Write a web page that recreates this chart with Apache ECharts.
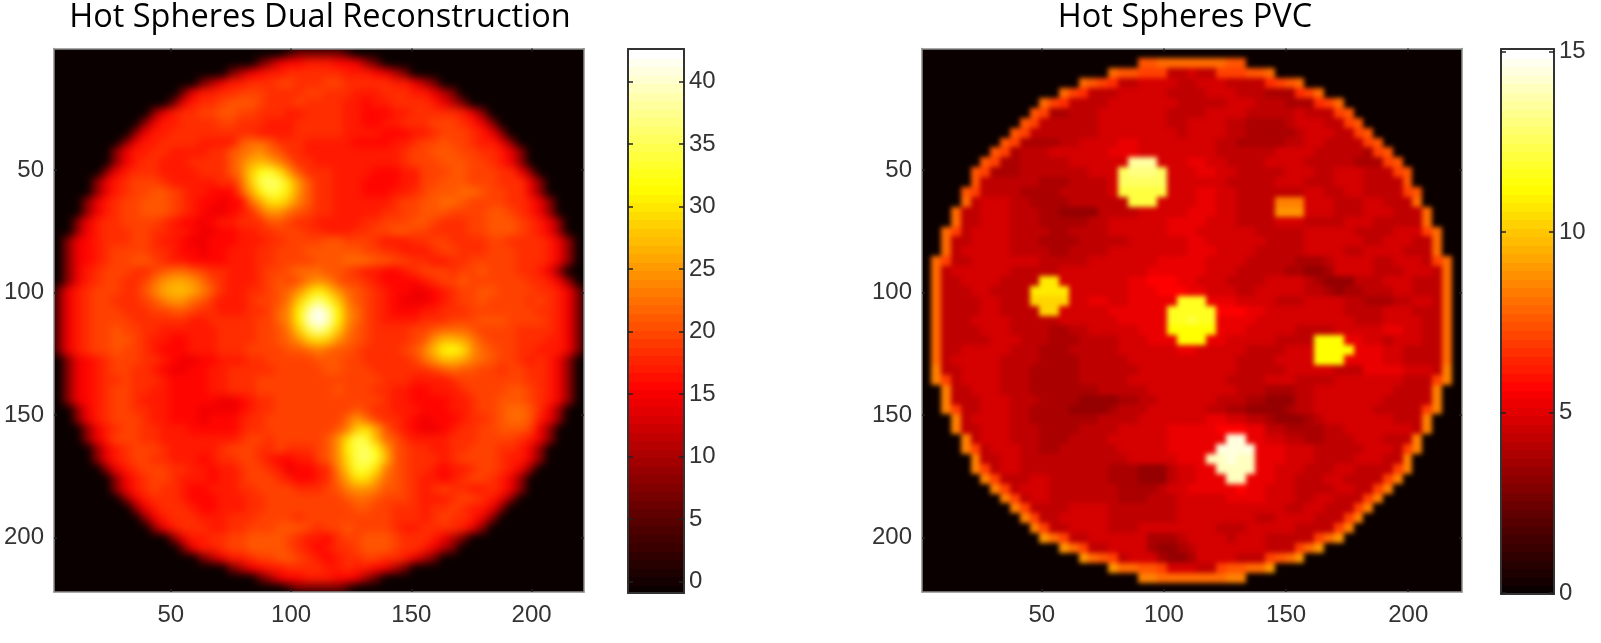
<!DOCTYPE html>
<html><head><meta charset="utf-8">
<style>
html,body{margin:0;padding:0;background:#fff}
#c{position:absolute;left:0;top:0;width:1601px;height:643px;z-index:2}
.plate{position:absolute;overflow:hidden;background:#0a0000;z-index:1}
.plate>div{width:100%;height:100%}
</style>
<script src="https://cdn.jsdelivr.net/npm/echarts@6/dist/echarts.min.js"></script>
</head><body>
<div class="plate" style="left:54px;top:48.5px;width:530px;height:543.5px"><div id="imgL" style="filter:blur(4px)"></div></div>
<div class="plate" style="left:922px;top:48.5px;width:540px;height:543.5px"><div id="imgR" style="filter:blur(2.8px)"></div></div>
<div id="c"></div>
<script>
const titles = ["Hot Spheres Dual Reconstruction", "Hot Spheres PVC"];
const imageTicks = [50, 100, 150, 200];
const leftBarTicks = [0, 5, 10, 15, 20, 25, 30, 35, 40];
const rightBarTicks = [0, 5, 10, 15];
const barSteps = [0,1,2,3,4,5,6,7,8,9,10,11,12,13,14,15,16,17,18,19,20,21,22,23,24,25,26,27,28,29,30,31,32,33,34,35,36,37,38,39,40,41,42,43,44,45,46,47,48,49,50,51,52,53,54,55,56,57,58,59,60,61,62,63];

// Each row is one strip of the image inside the disc; one base-36 character per cell.
const leftRows = [
"3666663",
"58cddeeeddc85",
"69cdeeffffffeeedc96",
"69ceefffggfffggfffffeec96",
"6ceeffgggffffggfffeeefffeec96",
"6ceffghhhgfffgffffeedeeffffec96",
"7ceffgghhggfffeeffffeedddeefffffec7",
"7ceeffffggfffeeefffffeeddeefffgggfec7",
"7ceefffffffffeeeefffffeeeedddeefgggfec7",
"7ceeffffeeeehiihfffeeeeeddddeefgghggfeec7",
"7ceeffeeeeffhijkihffeeeeeeeeeefgghhhggffec7",
"7ceffeeeffffhjlmljhffeeeeeeeeefggghhhggfec7",
"7cefffeeeefffhjnqrokhfffeeeedddeeggghhgggffc7",
"7cefgggfeeeeeffinstsokhffeeeddddeegghhhgggfffc7",
"7cefgghhgfeedddhlpsrokhffeeedddeefghhhiihggffc7",
"7cefgghhhgfeddcddiloomjhffeeeeeefgghhiihggggffec7",
"7cefgghhhgfedccdefikkihgffeeeeeffgghhhgggghhgfec7",
"7ceffggggfeddcdeefffhhgffeeeeeffggghhgfffgghhhgfec7",
"7cefffggffeedccddeeffgggffeeeffgghhggffffgghhhgfec7",
"7cdefffggfeedccdddeeeffgggghhgggfeeeffggffffggffffec7",
"7cdefggggffeddcddeeeffggghhhhhhggffeeefggfffgggfffec7",
"7cdefgghhgfeeddddeeeffgggghhhiiihhggffeeffgggggfffec7",
"7cefgggffghiihgffeeefgghiiihhgfeeddefgggfgghgggffec7",
"7cefggffgikllkigfeeefghghjkjhggfeddddefgghggggggffec7",
"6cefgggffhjlmmljhfeeffghiknpnkihgfeddccdefgghhggggffec6",
"6cefggfffghjkkihfeeefgghjnrurnjhgfedcccdefgghggggfgfec6",
"6cefgggfffgghhgffeeeffgikpvzvpkigfedddeefffgggggggffec6",
"6cefggggffffffeefffffggikpwzwpkigfeeeefffggghhhggggfec6",
"6cefgghggffeeeeeeffffgghjnsvsnjhgffffgghiiihggggffffec6",
"6cefgghhgfeeddeeeffffgghiknonkihgffffghkmmljhgggfffeec6",
"6cefgghggfedddeeefffgggghhijihhgffffghjmpqokihggffeeec6",
"7cdefgggffedccddeeeffggggghhhggfffffgikmmljihggfefec7",
"7cdefggffedccddeefffffggggghhgggffffffghihhggfggffec7",
"7cdeffgfffeddddeefffgggggggggggggfffeeeefgggggggffec7",
"7cdefggffeeddddeefffgggggggghgggffeeddeeefgggghhgfec7",
"7cdefggfeeedddddccdeffgggggggggggfeeddddeefgghhhgfec7",
"7cefggffeedddccccdeffgggggggghgffeeedddeefgghiihfc7",
"7cefgggfeedddcdddeffggggggggikigffedcdddeffghiihec7",
"7cefggffeeedddddeffggggggghjnolhfedccdeffgghhhgc7",
"7cegggffeeeeeeeefggfggggghkosrmihfeeeefffggggfec7",
"7cefgggfeeeeefgggffgfffghkpstqlhgffeeffgggffec7",
"7cefggffeeedeffggfeddeeghkostrmhgfffefggggfeec7",
"7cefgggffeedeefggfecddefjnrrojhgffedeefggfec7",
"7cefggfeeedeefgggfeddefiloolihgfeedefggfec7",
"7cefgffeddeeeffggggfffghjkkjhhgfefgffeefec7",
"7cefffedddeeeffgggggggghiihgggfeeefggfec7",
"7cefffeddeeeffggggggggghhggfffeffgfeec7",
"7cefffeeefffggggfgggggggggfffefgffec7",
"7cefffeeffggghhhgfgghggggfeeffffec7",
"7ceeffgghhhhgfeedfgghhhgfffec96",
"6ceefgghhhhgfedeffghhhgffec96",
"69ceefgghhgfedeffggffec96",
"69cdeeffffeefeedc96",
"58cddeeeddc85",
"3666663"
];

const rightRows = [
"",
"gghhhhhhhgg",
"hggfff99a99fffggh",
"hgfe99aaaa99aaa9999efgh",
"hfe999aaaaa9999aaa999888efh",
"hfe9999aaaaaaa99999aaa999888efh",
"gf88999aaaaaaa9999aaaa99999a999fg",
"gf999999aaaaaaa99aaaa9988889aaa99fg",
"gf9999999aaaaaaaa9aaaa99888889aaa99fg",
"gf888899aaaabbaaaaaaaa998888899aa9999fg",
"gf8999aaaaaabbbaaaaaaaa999999aaaa999998fg",
"gf8899999aaaaaatttaaabbaa9999aaaa99999888fg",
"gf8889999999aaarsssraaabbaa99999aaa99aaa999fg",
"g9999998889999arrrrraaaaaa99999aaa999aaa9999g",
"gf9999888899999aqqqqqaaabbaa9999999aa99aa9999fg",
"h9aaa998888999999qqqaaaabbaa9999iiiaaa999aa999h",
"h99aaa9998877779999aaaaabbbaa9999jjjaaa999aaa999h",
"h99aaa9998888899aaaaaabbbbaaa9999aaa9999aaa99999h",
"hf9aaaa9999889999aaaaaabbbaaaaaa99999aaaaa9999aaafh",
"h99aaaa999888899999aaaaaabbaaaaaa9999aaaaaa99aaa99h",
"h9aaaaa9999889999aaaaaaaabbbaaaa99999aaaa99aaaa999h",
"hf99aaaaaaa99999aaaaaaabbbbbaaaa999998889aaaa99aaa9fh",
"h9aaaaaa99999aaaaaaaaabbbbbbaaa9999988778aaaa999aaa9h",
"h99aaaa9999nnaaaaaaabbcccbbaaa9999aaaa98777999aaa999h",
"h999aa9999nnnnaaaaaabbbcccbbaaa99aaaaa998788999aa999h",
"h9999aa999mmmmaabbaabbbbbpppbbbaaaa999aaaa9988899aa9h",
"h9999aa9999mmaaaaabbbbbbpppppcccbbaaaaaaaa9999aaa999h",
"h999aaaa99999aaaaaabbbbbppqppbbbbaaaaaaaaaa999aaaa99h",
"h9999aaa99998899aaaaabbbooooobbbaaaaa9999aaaaabbaa99h",
"h99999aaa9998889999aaabbbooobbaaaaa9999ooobbaa9aaa99h",
"h99aaaaa99988899999aaaaaabbaaaaa9999aaaoooobbbaa9999h",
"h9aaaaa9999888899999aaaaaaaaaaa9999aaaaooobbbbaa9999h",
"i99aaaa99988888999999aaaaaaaaaa99999aaaaa999bbbbaaa9i",
"if9aaaa9998888899999aaaaaaaaaa9999aaa9999aaaaaaa999fi",
"i99aaa999888888899999aaaaaaaaa99988899aaaaaaaa9999i",
"i999aaa999888877778899aaaaaa9998877799aaaaaaa99999i",
"if99aaa99888877778999aaaaaa99887777899aaaaaa99999fi",
"i9aaaa9988888889999aaaaaaabbaa99877789aaaaaaa999i",
"i99aaa99988889999aaaaabbbbbcccbb99888899aaaaaaa9i",
"i9aaa9998889999aaaaaabbbbbbvvbbaa9988999aaa999i",
"if9aaa9988999999aaaaabbbbbvvvvbbbaaa99999aaa9fi",
"i99aa99999999999aaaaabbbuuvuubbbaaa9999aaa99i",
"if9aa9999999998887779aabbuuuubbaaa999aa9999fi",
"if999aa9999998887779aabbbuubbbaa999aa9999fi",
"if9aaa999999988889aabbbbbcbbaaa9999aa99fi",
"if9aa9999999888999aaaaabbbbaaa99aa999fi",
"if9999aaaa9999999aaaaaaaaaaa99aa999fi",
"if99aaaaa9999999aaaaaaaa99aaaa999fi",
"if99aaaa999aaaaaaaa999aaaaa9999fi",
"jhf99aaaaaa8889aaaa9aaa99999fhj",
"jhf99aaaa87789aaaaaaa999fhj",
"jhgf9aaa8778aaaa999fghj",
"jhhggfaaa99fgghhj",
"iihhhhhhhii",
""
];

const GRID_CELLS = 55;
const hotStops = ['#0a0000','#550000','#aa0000','#ff0000','#ff5500','#ffaa00','#ffff00','#ffff80','#ffffff'];
const cellIds = Array.from({length: GRID_CELLS}, (_, i) => i);

function cellsFrom(rows, fullScale) {
  const out = [];
  rows.forEach((row, i) => {
    const pad = Math.floor((GRID_CELLS - row.length) / 2);
    for (let j = 0; j < GRID_CELLS; j++) {
      const ch = row[j - pad];
      const level = ch === undefined ? 0 : parseInt(ch, 36);
      out.push([j, i, Math.min(1, level / fullScale)]);
    }
  });
  return out;
}

function drawCell(params, api) {
  const p = api.coord([api.value(0), api.value(1)]);
  const s = api.size([1, 1]);
  return {
    type: 'rect',
    shape: {
      x: Math.floor(p[0] - s[0] / 2), y: Math.floor(p[1] - s[1] / 2),
      width: Math.ceil(s[0]) + 1, height: Math.ceil(s[1]) + 1
    },
    style: {fill: api.visual('color')}
  };
}

function drawImage(id, rows, fullScale) {
  const chart = echarts.init(document.getElementById(id), null, {renderer: 'canvas'});
  chart.setOption({
    animation: false,
    grid: {left: 0, right: 0, top: 0, bottom: 0},
    xAxis: {type: 'category', data: cellIds, show: false},
    yAxis: {type: 'category', data: cellIds, show: false, inverse: true},
    visualMap: {show: false, min: 0, max: 1, dimension: 2, inRange: {color: hotStops}},
    series: [{type: 'custom', renderItem: drawCell, encode: {x: 0, y: 1}, data: cellsFrom(rows, fullScale), silent: true, clip: true}]
  });
}
drawImage('imgL', leftRows, 34);
drawImage('imgR', rightRows, 32);

const labelStyle = {color: '#333', fontFamily: 'Liberation Sans', fontSize: 24};
const frameLine = {show: true, onZero: false, lineStyle: {color: '#8c8c8c', width: 1.5}};
const barLine = {show: true, onZero: false, lineStyle: {color: '#333', width: 2}};

const grids = [], xAxes = [], yAxes = [], series = [];

function valAxis(gridIndex, position, min, max, ticks, labels, line, inverse, tickLen, margin) {
  return {
    type: 'value', gridIndex, position, min, max, inverse: !!inverse, z: 10,
    splitLine: {show: false},
    axisLine: line,
    axisTick: {show: true, inside: true, length: tickLen, customValues: ticks, lineStyle: {color: '#222', width: 1.5}},
    axisLabel: labels ? Object.assign({show: true, customValues: ticks, margin: margin}, labelStyle) : {show: false}
  };
}

function addFrame(box, xMin, xMax) {
  const g = grids.length;
  grids.push(box);
  xAxes.push(valAxis(g, 'bottom', xMin, xMax, imageTicks, true, frameLine, false, 3, 11));
  xAxes.push(valAxis(g, 'top', xMin, xMax, imageTicks, false, frameLine, false, 3, 0));
  yAxes.push(valAxis(g, 'left', 0.4, 222.2, imageTicks, true, frameLine, true, 3, 10));
  yAxes.push(valAxis(g, 'right', 0.4, 222.2, imageTicks, false, frameLine, true, 3, 0));
}

function addBar(box, ticks, vMin, vMax) {
  const g = grids.length;
  grids.push(box);
  const xi = xAxes.length, yi = yAxes.length;
  xAxes.push({type: 'category', gridIndex: g, data: [0], show: false});
  yAxes.push({type: 'category', gridIndex: g, data: barSteps, show: false});
  xAxes.push({type: 'value', gridIndex: g, position: 'top', min: 0, max: 1, z: 10, axisLine: barLine, axisTick: {show: false}, axisLabel: {show: false}, splitLine: {show: false}});
  xAxes.push({type: 'value', gridIndex: g, position: 'bottom', min: 0, max: 1, z: 10, axisLine: barLine, axisTick: {show: false}, axisLabel: {show: false}, splitLine: {show: false}});
  yAxes.push(valAxis(g, 'right', vMin, vMax, ticks, true, barLine, false, 5, 5));
  yAxes.push(valAxis(g, 'left', vMin, vMax, ticks, false, barLine, false, 5, 0));
  series.push({type: 'custom', renderItem: drawCell, encode: {x: 0, y: 1}, xAxisIndex: xi, yAxisIndex: yi, data: barSteps.map(s => [0, s, s / 63]), silent: true, clip: true, z: 2});
}

addFrame({left: 54, top: 48.5, width: 530, height: 543.5}, 1.4, 221.8);
addBar({left: 628, top: 49, width: 56, height: 544}, leftBarTicks, -0.9, 42.6);
addFrame({left: 922, top: 48.5, width: 540, height: 543.5}, 1, 222);
addBar({left: 1501, top: 49, width: 53, height: 545}, rightBarTicks, -0.03, 15.07);

const titleFont = {fontFamily: 'Open Sans', fontSize: 32.5, fontWeight: 'normal', color: '#000'};
const chart = echarts.init(document.getElementById('c'), null, {renderer: 'canvas'});
chart.setOption({
  animation: false,
  backgroundColor: 'transparent',
  title: [
    {text: titles[0], left: 315, top: -4, textAlign: 'center', textStyle: titleFont},
    {text: titles[1], left: 1180, top: -4, textAlign: 'center', textStyle: titleFont}
  ],
  grid: grids,
  xAxis: xAxes,
  yAxis: yAxes,
  visualMap: {show: false, min: 0, max: 1, dimension: 2, seriesIndex: [0, 1], inRange: {color: hotStops}},
  series: series
});
</script></body></html>
